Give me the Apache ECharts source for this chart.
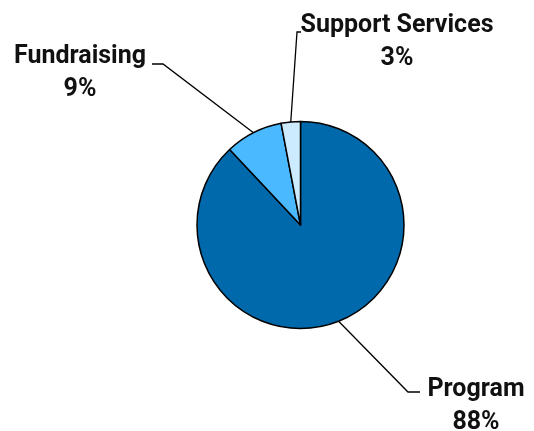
<!DOCTYPE html>
<html>
<head>
<meta charset="utf-8">
<script src="https://cdn.jsdelivr.net/npm/echarts@6/dist/echarts.min.js"></script>
<style>
html,body{margin:0;padding:0;background:#fff;}
#chart{width:534px;height:431px;}
</style>
</head>
<body>
<div id="chart"></div>
<script>
const categories = ['Program', 'Fundraising', 'Support Services'];
const values = [88, 9, 3];
const colors = ['#0069AC', '#4BB9FF', '#CDEBFF'];

// label block centres and leader-line bends (layout only)
const labelPos = [
  {x: 476, y: 406, bend: [408, 392], end: [420, 392]},
  {x: 80, y: 73, bend: [163, 64], end: [152, 64]},
  {x: 397, y: 42, bend: [297, 32], end: [301, 32]}
];

const center = [300.5, 225];
const radius = 103.5;

function startPoint(i) {
  const total = values.reduce((a, b) => a + b, 0);
  let before = 0;
  for (let k = 0; k < i; k++) before += values[k];
  const mid = (before + values[i] / 2) / total * Math.PI * 2;
  return [center[0] + radius * Math.sin(mid), center[1] - radius * Math.cos(mid)];
}

const chart = echarts.init(document.getElementById('chart'), null, {renderer: 'canvas'});
chart.setOption({
  backgroundColor: '#fff',
  animation: false,
  series: [{
    type: 'pie',
    center: center,
    radius: radius,
    startAngle: 90,
    clockwise: true,
    data: categories.map((c, i) => ({name: c, value: values[i], itemStyle: {color: colors[i]}})),
    itemStyle: {borderColor: '#000', borderWidth: 1.5},
    label: {
      show: true,
      position: 'outside',
      formatter: p => p.name + '\n' + p.value + '%',
      fontFamily: 'Roboto',
      fontWeight: 'bold',
      fontSize: 25,
      lineHeight: 33,
      color: '#111',
      align: 'center'
    },
    labelLine: {show: true, length: 20, length2: 10, lineStyle: {color: '#000', width: 1.3}},
    labelLayout: function (params) {
      const i = params.dataIndex;
      const lp = labelPos[i];
      const s = startPoint(i);
      return {
        x: lp.x,
        y: lp.y,
        align: 'center',
        verticalAlign: 'middle',
        labelLinePoints: [s, lp.bend, lp.end]
      };
    },
    emphasis: {disabled: true}
  }]
});
</script>
</body>
</html>
